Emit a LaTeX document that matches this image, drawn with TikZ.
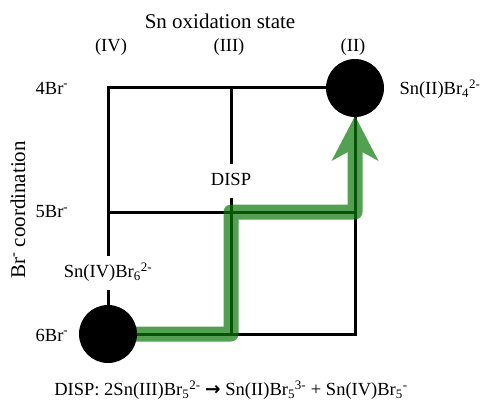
\documentclass[tikz,border=0pt]{standalone}
\usepackage{fontspec}
\setmainfont{Liberation Serif}
\newfontfamily\arrowfont{DejaVu Sans}
\usetikzlibrary{arrows.meta,positioning}
\definecolor{pathgreen}{RGB}{10,120,10}

\begin{document}
\begin{tikzpicture}[x=1pt,y=-1pt,>=Stealth]
  \tikzset{grid/.style={line width=3pt,black}}
  \tikzset{lbl/.style={font=\fontsize{18.5}{20}\selectfont,inner sep=0pt}}
  \tikzset{gap/.style={lbl,text height=13pt,text depth=4pt,inner sep=8pt}}
  \tikzset{axis/.style={font=\fontsize{21}{24}\selectfont,inner sep=0pt}}
  \tikzset{dot/.style={circle,fill=black,minimum size=58pt,inner sep=0pt}}
  \tikzset{flow/.style={line width=15pt,pathgreen,line join=round,-{Stealth[length=45pt,width=47pt,inset=13pt,line width=0pt]}}}
  \useasboundingbox (0,0) rectangle (489,401);
  % grid points
  \coordinate (IV4) at (108,88);
  \coordinate (III4) at (231,88);
  \coordinate (II4) at (355,88);
  \coordinate (IV5) at (108,212);
  \coordinate (III5) at (231,212);
  \coordinate (II5) at (355,212);
  \coordinate (IV6) at (108,334);
  \coordinate (III6) at (231,334);
  \coordinate (II6) at (355,334);
  \coordinate (tip) at (355,116);
  % axis labels
  \node[axis] (oxtitle) at (220,21) {Sn oxidation state};
  \node[lbl] (colIV) at (111,47) {(IV)};
  \node[lbl] (colIII) at (229,47) {(III)};
  \node[lbl] (colII) at (353,47) {(II)};
  \node[axis,rotate=90] (brtitle) at (18,210) {Br\textsuperscript{-} coordination};
  \node[lbl] (row4) at (52,88) {4Br\textsuperscript{-}};
  \node[lbl] (row5) at (52,212) {5Br\textsuperscript{-}};
  \node[lbl] (row6) at (52,335) {6Br\textsuperscript{-}};
  \node[gap] (disp) at (231,181) {DISP};
  \node[gap] (snIVlbl) at (108,273) {Sn(IV)Br\textsubscript{6}\textsuperscript{2-}};
  % frame
  \draw[grid] (II4) -- (IV4) -- (snIVlbl);
  \draw[grid] (snIVlbl) -- (IV6) -- (II6) -- (II4);
  \draw[grid] (IV5) -- (II5);
  \draw[grid] (III4) -- (disp);
  \draw[grid] (disp) -- (III6);
  % green route
  \begin{scope}[transparency group,opacity=0.7]
    \draw[flow] (IV6) -- (III6) -- (III5) -- (II5) -- (tip);
  \end{scope}
  \node[dot] (snII) at (II4) {};
  \node[dot] (snIV) at (IV6) {};
  \node[lbl] (snIIlbl) at (440,89) {Sn(II)Br\textsubscript{4}\textsuperscript{2-}};
  \node[lbl] (displine) at (231,390) {DISP: 2Sn(III)Br\textsubscript{5}\textsuperscript{2-} {\arrowfont\bfseries →} Sn(II)Br\textsubscript{5}\textsuperscript{3-} + Sn(IV)Br\textsubscript{5}\textsuperscript{-}};
\end{tikzpicture}
\end{document}
